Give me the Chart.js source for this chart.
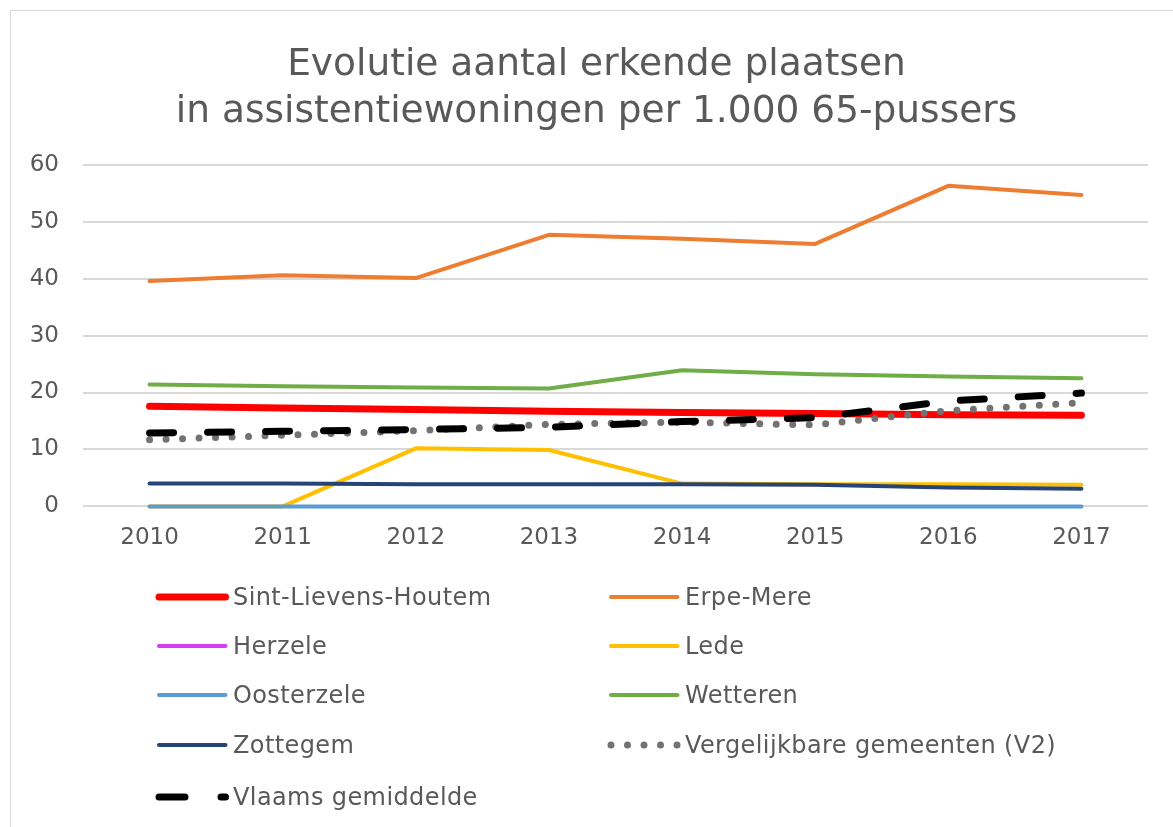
<!DOCTYPE html>
<html>
<head>
<meta charset="utf-8">
<script src="https://cdn.jsdelivr.net/npm/chart.js@4.4.1/dist/chart.umd.min.js"></script>
<style>
  html, body { margin: 0; padding: 0; background: #fff; overflow: hidden; }
  body { width: 1173px; height: 827px; position: relative; font-family: "DejaVu Sans", Verdana, sans-serif; }
  #frame { position: absolute; left: 10px; top: 10px; width: 1300px; height: 900px; border: 1.5px solid #d9d9d9; }
  #chartBox { position: absolute; left: 0; top: 0; width: 1173px; height: 562px; }
  #legend { position: absolute; left: 0; top: 0; width: 1173px; height: 827px; pointer-events: none; }
  .item { position: absolute; display: flex; align-items: center; color: #595959; font-size: 24px; letter-spacing: 0.4px; white-space: nowrap; }
  .item svg { margin-right: 3px; }
</style>
</head>
<body>
<div id="frame"></div>
<div id="chartBox"><canvas id="lineChart"></canvas></div>
<div id="legend"></div>
<script>
const years = ["2010", "2011", "2012", "2013", "2014", "2015", "2016", "2017"];

const sintLievensHoutem = [17.6, 17.3, 17.0, 16.7, 16.5, 16.3, 16.1, 16.0];
const erpeMere = [39.6, 40.6, 40.1, 47.7, 47.0, 46.1, 56.3, 54.7];
const herzele = [0, 0, 0, 0, 0, 0, 0, 0];
const lede = [0, 0, 10.2, 9.9, 4.0, 3.9, 3.9, 3.8];
const oosterzele = [0, 0, 0, 0, 0, 0, 0, 0];
const wetteren = [21.4, 21.1, 20.9, 20.7, 23.9, 23.2, 22.8, 22.5];
const zottegem = [4.0, 4.0, 3.9, 3.9, 3.9, 3.8, 3.3, 3.1];
const vergelijkbaar = [11.7, 12.5, 13.3, 14.4, 14.8, 14.3, 16.8, 18.2];
const vlaams = [12.9, 13.2, 13.5, 13.9, 14.9, 15.6, 18.5, 19.9];

const series = [
  { name: "Sint-Lievens-Houtem", data: sintLievensHoutem, color: "#ff0000", width: 7, dash: [] },
  { name: "Erpe-Mere", data: erpeMere, color: "#ed7d31", width: 4, dash: [] },
  { name: "Herzele", data: herzele, color: "#d03ff0", width: 4, dash: [] },
  { name: "Lede", data: lede, color: "#ffc000", width: 4, dash: [] },
  { name: "Oosterzele", data: oosterzele, color: "#5b9bd5", width: 4, dash: [] },
  { name: "Wetteren", data: wetteren, color: "#70ad47", width: 4, dash: [] },
  { name: "Zottegem", data: zottegem, color: "#264478", width: 4, dash: [] },
  { name: "Vergelijkbare gemeenten (V2)", data: vergelijkbaar, color: "#767171", width: 7, dash: [0, 16.5] },
  { name: "Vlaams gemiddelde", data: vlaams, color: "#000000", width: 7, dash: [24, 34] },
];

const textColor = "#595959";
const fontFamily = '"DejaVu Sans", Verdana, sans-serif';

const datasets = series.map((s, i) => ({
  label: s.name,
  data: s.data,
  borderColor: s.color,
  backgroundColor: s.color,
  // Herzele sits exactly under Oosterzele; keep it thinner so no purple edge shows
  borderWidth: s.name === "Herzele" ? 2.5 : s.width,
  borderDash: s.dash,
  borderCapStyle: "round",
  borderJoinStyle: "round",
  pointRadius: 0,
  tension: 0,
  fill: false,
  clip: 10,
  order: series.length - i, // later series on top, like Excel
}));

new Chart(document.getElementById("lineChart"), {
  type: "line",
  data: { labels: years, datasets: datasets },
  options: {
    responsive: true,
    maintainAspectRatio: false,
    animation: false,
    layout: { padding: { left: 20, right: 0, top: 0, bottom: 0 } },
    plugins: {
      legend: { display: false },
      tooltip: { enabled: false },
      title: {
        display: true,
        text: ["Evolutie aantal erkende plaatsen", "in assistentiewoningen per 1.000 65-pussers"],
        color: textColor,
        font: { family: fontFamily, size: 37.5, weight: "normal", lineHeight: 1.25 },
        padding: { top: 42, bottom: 29 },
      },
    },
    scales: {
      x: {
        offset: true,
        grid: { display: false },
        border: { display: false },
        ticks: { color: textColor, font: { family: fontFamily, size: 23 }, padding: 10 },
      },
      y: {
        min: 0,
        max: 60,
        ticks: { stepSize: 10, color: textColor, font: { family: fontFamily, size: 23 }, padding: 24 },
        grid: { color: "#d9d9d9", lineWidth: 2, drawTicks: false },
        border: { display: false },
        afterFit: (scale) => { scale.width = 63; },
      },
      // empty right-hand spacer so the plot ends where the original does
      y2: {
        position: "right",
        grid: { display: false },
        border: { display: false },
        ticks: { display: false },
        afterFit: (scale) => { scale.width = 25; },
      },
    },
  },
});

// legend in two columns, like the Excel original
const legendBox = document.getElementById("legend");
const colX = [155, 607];
const rowY = [597, 646, 695, 745, 797];
series.forEach((s, i) => {
  const el = document.createElement("div");
  el.className = "item";
  el.style.left = colX[i % 2] + "px";
  el.style.top = (rowY[Math.floor(i / 2)] - 15) + "px";
  el.style.height = "30px";
  let dash = s.dash;
  if (s.name === "Vlaams gemiddelde") dash = [26, 36];
  const dashAttr = dash.length ? `stroke-dasharray="${dash.join(" ")}"` : "";
  el.innerHTML =
    `<svg width="75" height="14"><line x1="4" y1="7" x2="70.5" y2="7" stroke="${s.color}" stroke-width="${s.width}" stroke-linecap="round" ${dashAttr}/></svg>` +
    `<span>${s.name}</span>`;
  legendBox.appendChild(el);
});
</script>
</body>
</html>
